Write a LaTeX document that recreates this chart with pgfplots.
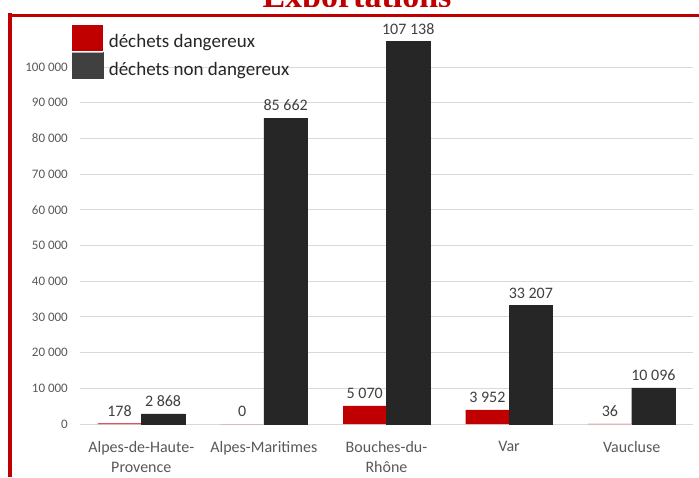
\documentclass[border=0pt]{standalone}
\usepackage{pgfplots}
\pgfplotsset{compat=1.18}
\usepackage{fontspec}
\setmainfont{Carlito}
\newfontfamily\titlefont{Liberation Serif}
\definecolor{cred}{HTML}{C00000}
\definecolor{cdark}{HTML}{262626}
\definecolor{clegdark}{HTML}{404040}
\definecolor{cgrid}{HTML}{D9D9D9}
\definecolor{ctick}{HTML}{595959}
\definecolor{clab}{HTML}{404040}
\begin{document}
\begin{tikzpicture}
\useasboundingbox (0pt,0pt) rectangle (699pt,477pt);
\fill[white] (0pt,0pt) rectangle (699pt,477pt);
\begin{scope}
\clip (0pt,470pt) rectangle (699pt,477pt);
\node[anchor=base, inner sep=0pt, text=cred, font=\titlefont\bfseries\fontsize{34}{36}\selectfont] at (357pt,469pt) {Exportations};
\end{scope}
\begin{axis}[
  at={(80pt,53pt)}, anchor=south west,
  scale only axis, width=613pt, height=392.7pt,
  xmin=-0.5, xmax=4.5, ymin=0, ymax=110000,
  ybar=0pt, bar width=43.5pt,
  clip=false,
  axis line style={draw=none},
  major tick length=0pt,
  ymajorgrids, grid style={color=cgrid, line width=0.9pt},
  ytick={0,10000,20000,30000,40000,50000,60000,70000,80000,90000,100000},
  scaled y ticks=false,
  /pgf/number format/assume math mode=true,
  yticklabel={\pgfmathprintnumber[fixed,precision=0,1000 sep={\ }]{\tick}},
  yticklabel style={font=\fontsize{13}{15}\selectfont, text=ctick, inner sep=0pt, xshift=-12pt},
  xtick={0,1,2,3,4},
  xticklabels={{Alpes-de-Haute-\\Provence},{Alpes-Maritimes},{Bouches-du-\\Rhône},{Var},{Vaucluse}},
  xticklabel style={font=\fontsize{16}{20}\selectfont, text=ctick, align=center, inner sep=0pt, yshift=-17pt},
  nodes near coords={\pgfmathprintnumber[fixed,precision=0,1000 sep={\ }]{\pgfplotspointmeta}},
  nodes near coords style={font=\fontsize{16}{18}\selectfont, text=clab, anchor=south, inner sep=0pt, yshift=7pt},
  legend style={at={(axis description cs:-0.01305,1.01604)}, anchor=north west, draw=none, fill=none,
    inner sep=0pt, outer sep=0pt, row sep=1pt, column sep=5pt,
    font=\fontsize{19}{21}\selectfont, text=cdark, nodes={inner sep=0pt}},
  legend cell align=left,
]
\addplot[fill=cred, draw=none,
  legend image code/.code={\fill[cred] (0pt,-9pt) rectangle (31pt,17pt);}]
  coordinates {(0,178) (1,0) (2,5070) (3,3952) (4,36)};
\addplot[fill=cdark, draw=cdark,
  legend image code/.code={\fill[clegdark] (0pt,-9pt) rectangle (31pt,17pt); \draw[gray!60, line width=0.8pt] (0pt,17pt) -- (31pt,17pt);}]
  coordinates {(0,2868) (1,85662) (2,107138) (3,33207) (4,10096)};
\legend{déchets dangereux, déchets non dangereux}
\end{axis}
\draw[cred, line width=3.5pt] (10pt,0pt) -- (10pt,463.5pt);
\draw[cred, line width=3pt] (8.25pt,461.7pt) -- (699pt,461.7pt);
\end{tikzpicture}
\end{document}
